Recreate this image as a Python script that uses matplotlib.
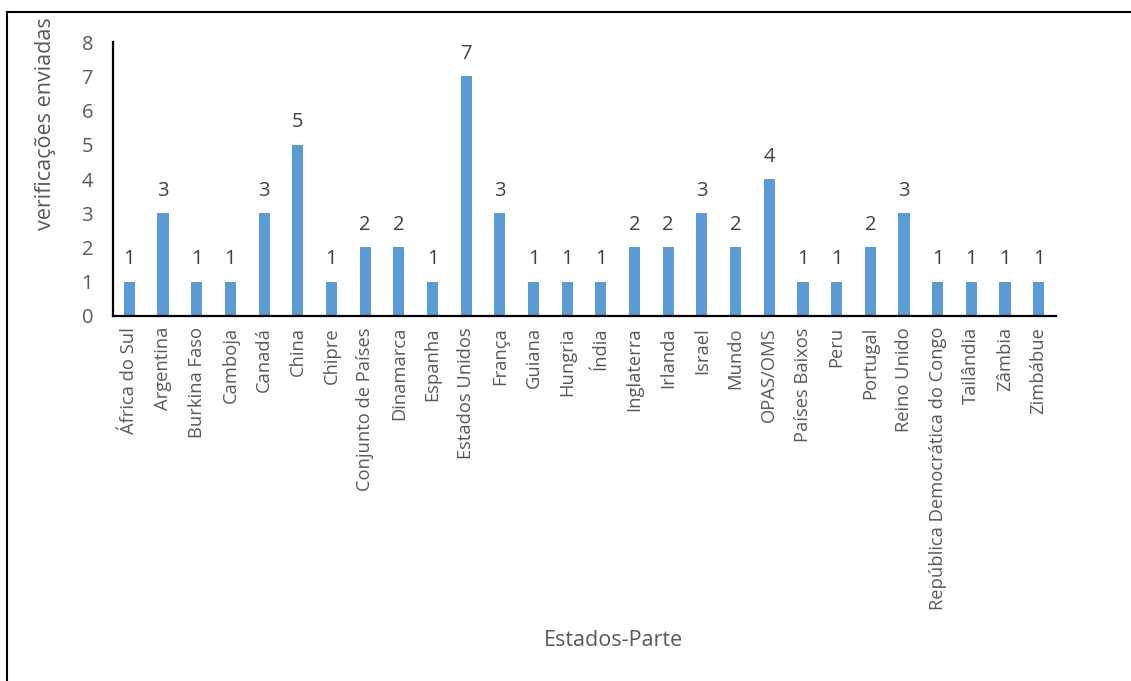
import matplotlib
matplotlib.use("Agg")
import matplotlib.pyplot as plt
from matplotlib.lines import Line2D

categories = ["África do Sul", "Argentina", "Burkina Faso", "Camboja", "Canadá", "China",
              "Chipre", "Conjunto de Países", "Dinamarca", "Espanha", "Estados Unidos",
              "França", "Guiana", "Hungria", "Índia", "Inglaterra", "Irlanda", "Israel",
              "Mundo", "OPAS/OMS", "Países Baixos", "Peru", "Portugal", "Reino Unido",
              "República Democrática do Congo", "Tailândia", "Zâmbia", "Zimbábue"]
values = [1, 3, 1, 1, 3, 5, 1, 2, 2, 1, 7, 3, 1, 1, 1, 2, 2, 3, 2, 4, 1, 1, 2, 3, 1, 1, 1, 1]
yticks = [0, 1, 2, 3, 4, 5, 6, 7, 8]

plt.rcParams['font.family'] = ['Open Sans', 'DejaVu Sans']
gray = '#595959'

fig = plt.figure(figsize=(11.31, 6.81), dpi=100)
ax = fig.add_axes([0.0995, 0.536, 0.8338, 0.4023])
x = list(range(len(categories)))
bars = ax.bar(x, values, width=0.33, color='#5B9BD5')
ax.set_xlim(-0.5, len(categories) - 0.5)
ax.set_ylim(0, 8)
ax.set_yticks(yticks)
ax.set_yticklabels([str(t) for t in yticks], fontsize=14.5, color=gray)
ax.set_xticks(x)
ax.set_xticklabels(categories, rotation=90, fontsize=13.2, color=gray)
ax.tick_params(axis='y', length=0, pad=14)
ax.tick_params(axis='x', length=0, pad=8)
for s in ['top', 'right']:
    ax.spines[s].set_visible(False)
for s in ['left', 'bottom']:
    ax.spines[s].set_linewidth(1.6)
    ax.spines[s].set_color('black')
for xi, v in zip(x, values):
    ax.annotate(str(v), (xi, v), xytext=(0, 9), textcoords='offset points',
                ha='center', va='bottom', fontsize=14.5, color='#404040')

fig.text(0.04, 0.819, 'verificações enviadas', rotation=90, ha='center', va='center',
         fontsize=15.5, color=gray)
fig.text(0.542, 0.06, 'Estados-Parte', ha='center', va='center', fontsize=15.5, color=gray)

# outer frame (top and left)
fig.add_artist(Line2D([0.0065, 0.9995], [0.9825, 0.9825], transform=fig.transFigure,
                      color='black', lw=1.5))
fig.add_artist(Line2D([0.0065, 0.0065], [0.0, 0.9825], transform=fig.transFigure,
                      color='black', lw=1.5))

fig.savefig('out.png', dpi=100, facecolor='white')
